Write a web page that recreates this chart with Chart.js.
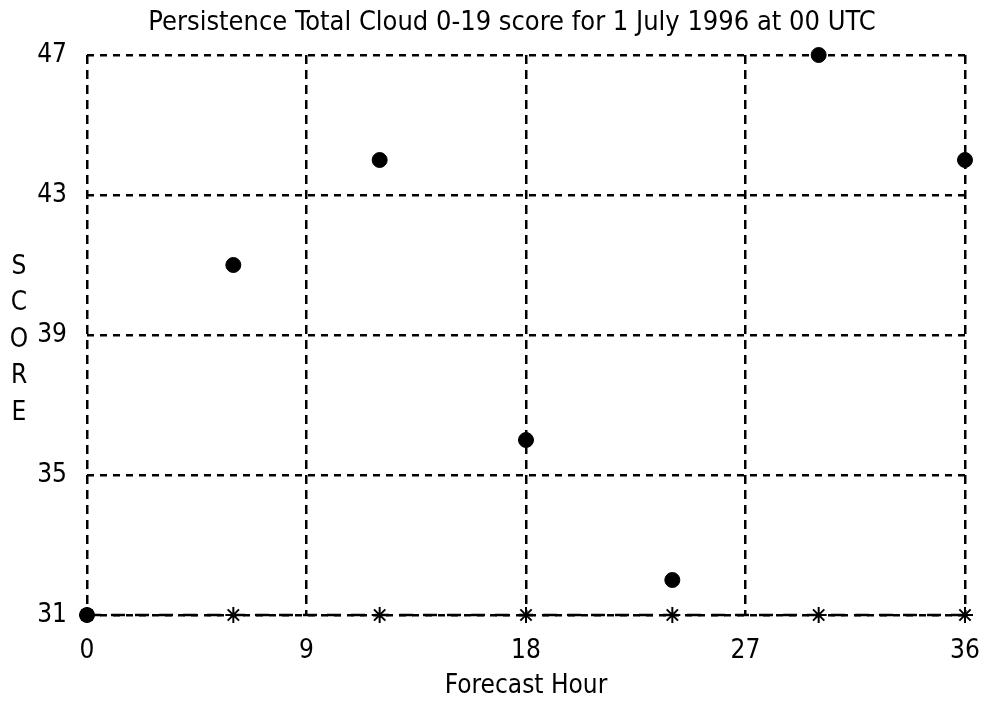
<!DOCTYPE html>
<html>
<head>
<meta charset="utf-8">
<script src="https://cdn.jsdelivr.net/npm/chart.js@4"></script>
<style>
  body { margin: 0; background: #fff; }
  #wrap { width: 983px; height: 702px; }
</style>
</head>
<body>
<div id="wrap"><canvas id="scoreChart" width="983" height="702"></canvas></div>
<script>
// Data
const hours = [0, 6, 12, 18, 24, 30, 36];
const persistScore = [31, 41, 44, 36, 32, 47, 44];
const baseline = [31, 31, 31, 31, 31, 31, 31];
const xTicks = [0, 9, 18, 27, 36];
const yTicks = [31, 35, 39, 43, 47];
const chartTitle = 'Persistence Total Cloud 0-19 score for 1 July 1996 at 00 UTC';

const FONT = '"Liberation Sans Narrow", "DejaVu Sans Condensed", "Arial Narrow", sans-serif';

function toPoints(xs, ys) {
    return xs.map((x, i) => ({ x: x, y: ys[i] }));
}

// Title (slightly off-centre in the original) and the stacked "SCORE" label
const textLabels = {
    id: 'textLabels',
    afterDraw(chart) {
        const ctx = chart.ctx;
        ctx.save();
        ctx.fillStyle = '#000';
        ctx.textAlign = 'center';
        ctx.textBaseline = 'middle';

        ctx.font = '27px ' + FONT;
        ctx.fillText(chartTitle, 512, 23);

        ctx.font = '26px ' + FONT;
        ['S', 'C', 'O', 'R', 'E'].forEach((ch, i) => {
            ctx.fillText(ch, 19, 267 + i * 36.5);
        });
        ctx.restore();
    }
};

const ctx = document.getElementById('scoreChart').getContext('2d');
const scoreChart = new Chart(ctx, {
    type: 'scatter',
    data: {
        datasets: [{
            label: 'Persistence',
            data: toPoints(hours, persistScore),
            backgroundColor: '#000',
            borderColor: '#000',
            pointRadius: 7.5,
            pointHoverRadius: 7.5,
            showLine: false,
            clip: false,
            order: 0
        }, {
            label: 'Baseline',
            data: toPoints(hours, baseline),
            borderColor: '#000',
            backgroundColor: '#000',
            pointStyle: 'star',
            pointRadius: 8,
            pointBorderWidth: 2,
            borderWidth: 2.5,
            borderDash: [14, 10],
            showLine: true,
            clip: false,
            order: 1
        }]
    },
    options: {
        responsive: false,
        animation: false,
        layout: { padding: { left: 0, right: 18, top: 55, bottom: 0 } },
        plugins: {
            legend: { display: false },
            tooltip: { enabled: false },
            title: { display: false }
        },
        scales: {
            x: {
                type: 'linear',
                min: 0,
                max: 36,
                afterBuildTicks: axis => { axis.ticks = xTicks.map(v => ({ value: v })); },
                afterFit: axis => {
                    axis.height = 87;
                    axis.paddingLeft = 0;
                    axis.paddingRight = 0;
                },
                grid: {
                    color: '#000',
                    lineWidth: 2.5,
                    drawTicks: false
                },
                border: { display: false, dash: [9, 6] },
                ticks: {
                    color: '#000',
                    padding: 21,
                    font: { family: FONT, size: 26 }
                },
                title: {
                    display: true,
                    text: 'Forecast Hour',
                    color: '#000',
                    font: { family: FONT, size: 26 },
                    padding: { top: 0, bottom: 0 }
                }
            },
            y: {
                type: 'linear',
                min: 31,
                max: 47,
                afterBuildTicks: axis => { axis.ticks = yTicks.map(v => ({ value: v })); },
                afterFit: axis => {
                    axis.width = 87;
                    axis.paddingTop = 0;
                    axis.paddingBottom = 0;
                },
                grid: {
                    color: '#000',
                    lineWidth: 2.5,
                    drawTicks: false
                },
                border: { display: false, dash: [7, 6] },
                ticks: {
                    color: '#000',
                    padding: 20,
                    font: { family: FONT, size: 26 }
                }
            }
        }
    },
    plugins: [textLabels]
});
</script>
</body>
</html>
